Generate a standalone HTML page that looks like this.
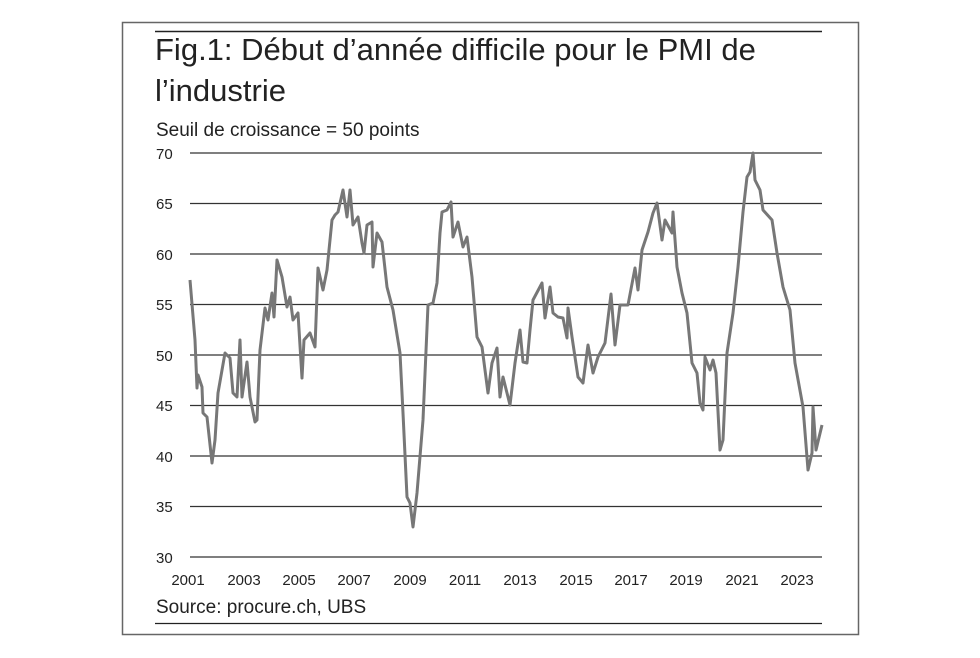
<!DOCTYPE html>
<html><head><meta charset="utf-8"><style>
html,body{margin:0;padding:0;background:#fff;}
</style></head><body>
<svg width="980" height="653" viewBox="0 0 980 653" xmlns="http://www.w3.org/2000/svg" font-family="'Liberation Sans', sans-serif">
<rect x="122.5" y="22.5" width="736" height="612" fill="none" stroke="#666" stroke-width="1.5"/>
<line x1="155" y1="31.5" x2="822" y2="31.5" stroke="#222" stroke-width="1.5"/>
<line x1="155" y1="623.5" x2="822" y2="623.5" stroke="#222" stroke-width="1.2"/>
<text x="155" y="60" font-size="31" fill="#222">Fig.1: Début d’année difficile pour le PMI de</text>
<text x="155" y="101" font-size="31" fill="#222">l’industrie</text>
<text x="156" y="136" font-size="19" fill="#222">Seuil de croissance = 50 points</text>
<g stroke="#333" stroke-width="1.2">
<line x1="190" y1="153" x2="822" y2="153"/>
<line x1="190" y1="203.5" x2="822" y2="203.5"/>
<line x1="190" y1="254" x2="822" y2="254"/>
<line x1="190" y1="304.5" x2="822" y2="304.5"/>
<line x1="190" y1="355" x2="822" y2="355"/>
<line x1="190" y1="405.5" x2="822" y2="405.5"/>
<line x1="190" y1="456" x2="822" y2="456"/>
<line x1="190" y1="506.5" x2="822" y2="506.5"/>
<line x1="190" y1="557" x2="822" y2="557" stroke="#555" stroke-width="1.5"/>
</g>
<g font-size="15" fill="#222">
<text x="156" y="159">70</text><text x="156" y="209">65</text><text x="156" y="260">60</text>
<text x="156" y="310">55</text><text x="156" y="361">50</text><text x="156" y="411">45</text>
<text x="156" y="462">40</text><text x="156" y="512">35</text><text x="156" y="563">30</text>
</g>
<g font-size="15" fill="#222" text-anchor="middle">
<text x="188" y="585">2001</text><text x="244" y="585">2003</text><text x="299" y="585">2005</text>
<text x="354" y="585">2007</text><text x="410" y="585">2009</text><text x="465" y="585">2011</text>
<text x="520" y="585">2013</text><text x="576" y="585">2015</text><text x="631" y="585">2017</text>
<text x="686" y="585">2019</text><text x="742" y="585">2021</text><text x="797" y="585">2023</text>
</g>
<text x="156" y="613" font-size="19" fill="#222">Source: procure.ch, UBS</text>
<polyline fill="none" stroke="#777" stroke-width="3" stroke-linejoin="round" points="
190,280 195,340 197,388 198,375 202,387 203,413 207,417 212,463 215,440 218,393 225,353 230,358 233,393 237,397 240,340 242,397 247,362 250,397 255,422 257,420 260,350 265,308 268,320 272,293 274,317 277,260 282,277 287,307 290,297 293,320 298,313 302,378 304,340 310,333 315,347 318,268 323,290 327,270 332,220 335,215 338,212 343,190 347,217 350,190 353,225 358,217 362,243 364,253 367,225 372,222 373,267 377,233 382,242 387,287 393,310 400,353 403,413 407,497 410,503 413,527 417,493 423,420 428,305 433,303 437,283 440,233 442,212 447,210 451,202 453,237 458,222 463,247 467,237 472,277 477,337 482,347 488,393 492,363 497,348 500,397 503,377 510,405 515,363 520,330 523,362 527,363 530,330 533,300 542,283 545,318 550,287 553,313 558,317 563,318 567,338 568,308 572,337 578,377 583,383 588,345 593,373 598,357 605,343 611,294 615,345 620,305 628,305 635,268 638,290 642,250 648,232 653,213 657,203 662,240 665,220 672,233 673,212 677,267 682,293 687,313 692,363 697,373 700,403 703,410 705,357 710,370 713,360 716,373 720,450 723,440 727,353 733,313 738,267 743,212 747,177 750,172 753,153 755,180 760,190 763,210 772,220 777,253 783,287 790,310 795,363 803,407 808,470 812,453 813,407 816,450 822,425"/>
</svg>
</body></html>
